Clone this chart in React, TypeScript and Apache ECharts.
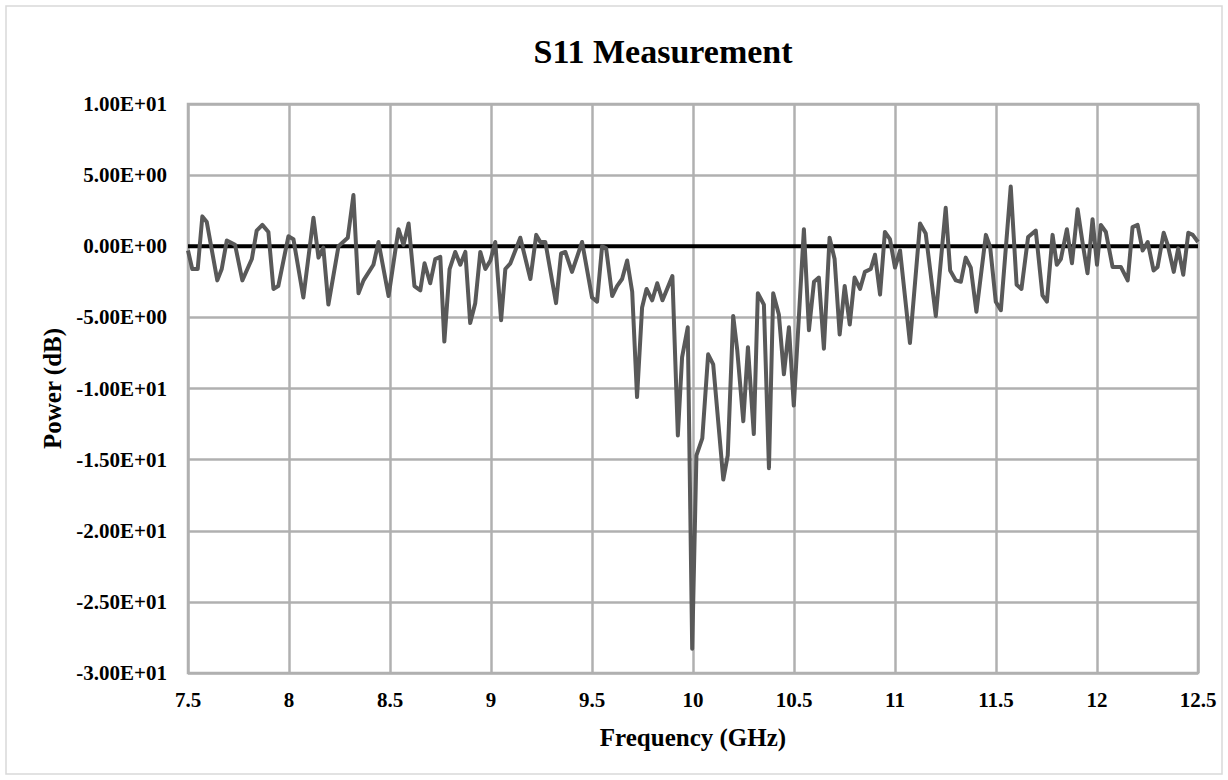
import React, { useEffect, useRef } from "react";
import * as echarts from "echarts";

const freq: number[] = [
  7.5, 7.521, 7.548, 7.571, 7.593, 7.645, 7.667, 7.692, 7.733, 7.769,
  7.816, 7.84, 7.868, 7.898, 7.923, 7.947, 7.997, 8.022, 8.071, 8.121,
  8.146, 8.17, 8.195, 8.245, 8.291, 8.319, 8.344, 8.369, 8.418, 8.443,
  8.493, 8.542, 8.567, 8.592, 8.621, 8.65, 8.671, 8.699, 8.724, 8.749,
  8.769, 8.795, 8.823, 8.848, 8.873, 8.897, 8.922, 8.947, 8.972, 8.997,
  9.021, 9.05, 9.071, 9.096, 9.145, 9.195, 9.224, 9.244, 9.269, 9.322,
  9.347, 9.368, 9.401, 9.451, 9.5, 9.525, 9.55, 9.57, 9.6, 9.624,
  9.649, 9.674, 9.699, 9.723, 9.748, 9.77, 9.798, 9.823, 9.849, 9.898,
  9.925, 9.946, 9.974, 9.996, 10.017, 10.046, 10.075, 10.1, 10.15, 10.172,
  10.199, 10.219, 10.249, 10.272, 10.301, 10.321, 10.351, 10.376, 10.397, 10.425,
  10.45, 10.475, 10.499, 10.549, 10.574, 10.599, 10.623, 10.648, 10.676, 10.701,
  10.726, 10.751, 10.776, 10.8, 10.827, 10.851, 10.88, 10.901, 10.926, 10.95,
  10.975, 11.0, 11.025, 11.074, 11.124, 11.152, 11.202, 11.251, 11.273, 11.301,
  11.326, 11.35, 11.375, 11.403, 11.45, 11.471, 11.499, 11.524, 11.573, 11.602,
  11.626, 11.659, 11.697, 11.73, 11.752, 11.78, 11.801, 11.821, 11.851, 11.876,
  11.904, 11.929, 11.953, 11.978, 12.0, 12.019, 12.044, 12.077, 12.118, 12.152,
  12.176, 12.201, 12.226, 12.251, 12.28, 12.3, 12.33, 12.35, 12.38, 12.402,
  12.427, 12.452, 12.474, 12.5,
];

const power: number[] = [
  -0.3, -1.6, -1.6, 2.1, 1.7, -2.4, -1.6, 0.4, 0.1, -2.4,
  -0.9, 1.1, 1.5, 1.0, -3.0, -2.8, 0.7, 0.5, -3.6, 2.0,
  -0.8, -0.1, -4.1, 0.0, 0.6, 3.6, -3.3, -2.4, -1.3, 0.3,
  -3.5, 1.2, 0.1, 1.6, -2.8, -3.1, -1.2, -2.6, -0.9, -0.75,
  -6.7, -1.6, -0.4, -1.3, -0.4, -5.4, -4.0, -0.4, -1.6, -1.0,
  0.3, -5.2, -1.6, -1.2, 0.6, -2.3, 0.8, 0.3, 0.3, -4.0,
  -0.5, -0.4, -1.8, 0.3, -3.6, -3.9, 0.0, -0.15, -3.5, -2.8,
  -2.3, -1.0, -3.2, -10.6, -4.3, -3.0, -3.8, -2.6, -3.8, -2.1,
  -13.3, -7.8, -5.7, -28.3, -14.7, -13.5, -7.6, -8.3, -16.4, -14.7,
  -4.9, -7.3, -12.3, -7.1, -13.2, -3.3, -4.1, -15.6, -3.3, -4.8,
  -9.0, -5.7, -11.2, 1.2, -5.9, -2.5, -2.2, -7.2, 0.6, -0.9,
  -6.2, -2.8, -5.5, -2.2, -3.0, -1.8, -1.6, -0.6, -3.4, 1.0,
  0.5, -1.5, -0.3, -6.8, 1.6, 0.9, -4.9, 2.7, -1.7, -2.4,
  -2.5, -0.8, -1.5, -4.6, 0.8, -0.05, -3.9, -4.5, 4.2, -2.7,
  -3.0, 0.65, 1.1, -3.45, -3.9, 0.8, -1.3, -0.9, 1.2, -1.2,
  2.6, 0.2, -1.9, 1.9, -1.3, 1.5, 1.0, -1.45, -1.45, -2.4,
  1.35, 1.5, -0.3, 0.3, -1.7, -1.45, 0.95, 0.1, -1.8, -0.15,
  -2.0, 0.95, 0.8, 0.3,
];

const xTicks = { min: 7.5, max: 12.5, step: 0.5 };
const yTicks = { min: -30, max: 10, step: 5 };

const titleText = "S11 Measurement";
const xName = "Frequency (GHz)";
const yName = "Power (dB)";

const FONT = "'Liberation Serif', 'Times New Roman', Times, serif";

function sci(v: number): string {
  if (v === 0) return "0.00E+00";
  const e = Math.floor(Math.log10(Math.abs(v)) + 1e-9);
  const m = v / Math.pow(10, e);
  return m.toFixed(2) + "E" + (e < 0 ? "-" : "+") + String(Math.abs(e)).padStart(2, "0");
}

export default function App() {
  const ref = useRef<HTMLDivElement>(null);
  useEffect(() => {
    if (!ref.current) return;
    const chart = echarts.init(ref.current, null, { renderer: "svg" });
    const data = freq.map((f, i) => [f, power[i]]);
    chart.setOption({
      animation: false,
      backgroundColor: "#ffffff",
      textStyle: { fontFamily: FONT },
      grid: {
        left: 188,
        right: 30,
        top: 104,
        bottom: 107,
        show: true,
        borderColor: "#b0b0b0",
        borderWidth: 2.5,
      },
      graphic: [
        {
          type: "rect",
          shape: { x: 6, y: 6, width: 1216, height: 768 },
          style: { fill: "none", stroke: "#d9d9d9", lineWidth: 1.5 },
          silent: true,
        },
        {
          type: "text",
          x: 663,
          y: 51,
          style: {
            text: titleText,
            fontFamily: FONT,
            fontWeight: "bold",
            fontSize: 34,
            fill: "#000000",
            textAlign: "center",
            textVerticalAlign: "middle",
          },
        },
      ],
      xAxis: {
        type: "value",
        min: xTicks.min,
        max: xTicks.max,
        interval: xTicks.step,
        name: xName,
        nameLocation: "middle",
        nameGap: 52,
        nameTextStyle: { fontFamily: FONT, fontWeight: "bold", fontSize: 25, color: "#000" },
        axisLine: { show: false, onZero: false },
        axisTick: { show: false },
        axisLabel: {
          margin: 16,
          fontFamily: FONT,
          fontWeight: "bold",
          fontSize: 21,
          color: "#000",
          showMinLabel: true,
          showMaxLabel: true,
        },
        splitLine: { show: true, lineStyle: { color: "#b0b0b0", width: 2.5 } },
      },
      yAxis: {
        type: "value",
        min: yTicks.min,
        max: yTicks.max,
        interval: yTicks.step,
        name: yName,
        nameLocation: "middle",
        nameGap: 122,
        nameTextStyle: { fontFamily: FONT, fontWeight: "bold", fontSize: 25, color: "#000" },
        axisLine: { show: false },
        axisTick: { show: false },
        axisLabel: {
          margin: 21,
          fontFamily: FONT,
          fontWeight: "bold",
          fontSize: 21,
          color: "#000",
          formatter: (v: number) => sci(v),
        },
        splitLine: { show: true, lineStyle: { color: "#b0b0b0", width: 2.5 } },
      },
      series: [
        {
          name: "zero",
          type: "line",
          data: [[xTicks.min, 0], [xTicks.max, 0]],
          symbol: "none",
          silent: true,
          z: 1,
          lineStyle: { color: "#000000", width: 4 },
        },
        {
          name: "S11",
          type: "line",
          data,
          symbol: "none",
          z: 2,
          lineStyle: { color: "#595959", width: 4, join: "round" },
        },
      ],
    });
    return () => chart.dispose();
  }, []);
  return (
    <div
      ref={ref}
      style={{ position: "absolute", left: 0, top: 0, width: 1228, height: 780, background: "#fff" }}
    />
  );
}
